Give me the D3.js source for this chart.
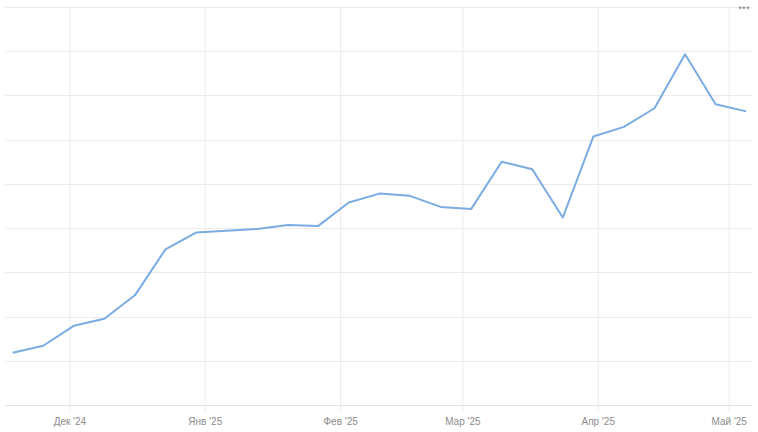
<!DOCTYPE html>
<html>
<head>
<meta charset="utf-8">
<script src="https://cdnjs.cloudflare.com/ajax/libs/d3/7.8.5/d3.min.js"></script>
<style>
  body { margin: 0; background: #fff; overflow: hidden; }
  svg { display: block; font-family: "Open Sans", "DejaVu Sans", sans-serif; }
</style>
</head>
<body>
<svg></svg>
<script>
var svgWidth = 758, svgHeight = 432;

// weekly points (Mondays)
var dates = ["2024-11-18", "2024-11-25", "2024-12-02", "2024-12-09", "2024-12-16",
             "2024-12-23", "2024-12-30", "2025-01-06", "2025-01-13", "2025-01-20",
             "2025-01-27", "2025-02-03", "2025-02-10", "2025-02-17", "2025-02-24",
             "2025-03-03", "2025-03-10", "2025-03-17", "2025-03-24", "2025-03-31",
             "2025-04-07", "2025-04-14", "2025-04-21", "2025-04-28", "2025-05-05"];
var values = [11.8, 13.4, 17.9, 19.5, 24.8, 35.2, 39.0, 39.4, 39.8, 40.7,
              40.5, 45.8, 47.8, 47.3, 44.8, 44.3, 55.0, 53.3, 42.4, 60.7,
              62.9, 67.1, 79.3, 68.0, 66.4];
var tickDates = ["2024-12-01", "2025-01-01", "2025-02-01", "2025-03-01", "2025-04-01", "2025-05-01"];
var tickLabels = ["Дек '24", "Янв '25", "Фев '25", "Мар '25", "Апр '25", "Май '25"];
var yTicks = [0, 10, 20, 30, 40, 50, 60, 70, 80, 90];

var parse = d3.utcParse("%Y-%m-%d");
var data = dates.map(function(d, i) { return { date: parse(d), value: values[i] }; });

var plotLeft = 5, plotRight = 752, plotTop = 7, plotBottom = 405;

var svg = d3.select("svg")
            .attr("width", svgWidth)
            .attr("height", svgHeight);

var x = d3.scaleUtc()
          .domain([new Date(Date.UTC(2024, 10, 16, 6)), new Date(Date.UTC(2025, 4, 6, 8))])
          .range([plotLeft, plotRight]);

var y = d3.scaleLinear()
          .domain([0, 90])
          .range([plotBottom, plotTop]);

// horizontal grid
svg.append("g")
    .selectAll("line")
    .data(yTicks.slice(1))
    .enter().append("line")
        .attr("x1", plotLeft)
        .attr("x2", plotRight)
        .attr("y1", function(d) { return Math.round(y(d)) + 0.5; })
        .attr("y2", function(d) { return Math.round(y(d)) + 0.5; })
        .style("stroke", "#ebebeb")
        .style("stroke-width", 1);

// x axis with month ticks
var tickVals = tickDates.map(parse);
var xAxis = d3.axisBottom(x)
              .tickValues(tickVals)
              .tickSize(6)
              .tickFormat(function(d, i) { return tickLabels[i]; });

var gx = svg.append("g")
    .attr("transform", "translate(0," + (Math.round(plotBottom) + 0.5) + ")")
    .call(xAxis);

gx.select(".domain")
    .attr("d", "M" + plotLeft + ",0H" + plotRight)
    .style("stroke", "#e3e3e3");
gx.selectAll(".tick line")
    .attr("y1", -(plotBottom - plotTop))
    .attr("y2", 6)
    .style("stroke", "#ebebeb");
gx.selectAll(".tick text")
    .attr("y", 12)
    .style("font-size", "10px")
    .style("fill", "#8c8c8c");

// line
var line = d3.line()
             .x(function(d) { return x(d.date); })
             .y(function(d) { return y(d.value); });

svg.append("path")
    .datum(data)
    .attr("d", line)
    .style("fill", "none")
    .style("stroke", "#7aabe1")
    .style("stroke-width", 2)
    .style("stroke-linejoin", "round");

// menu dots
svg.append("text")
    .attr("x", 744)
    .attr("y", 12)
    .attr("text-anchor", "middle")
    .style("font-size", "10px")
    .style("fill", "#888")
    .text("•••");
</script>
</body>
</html>
